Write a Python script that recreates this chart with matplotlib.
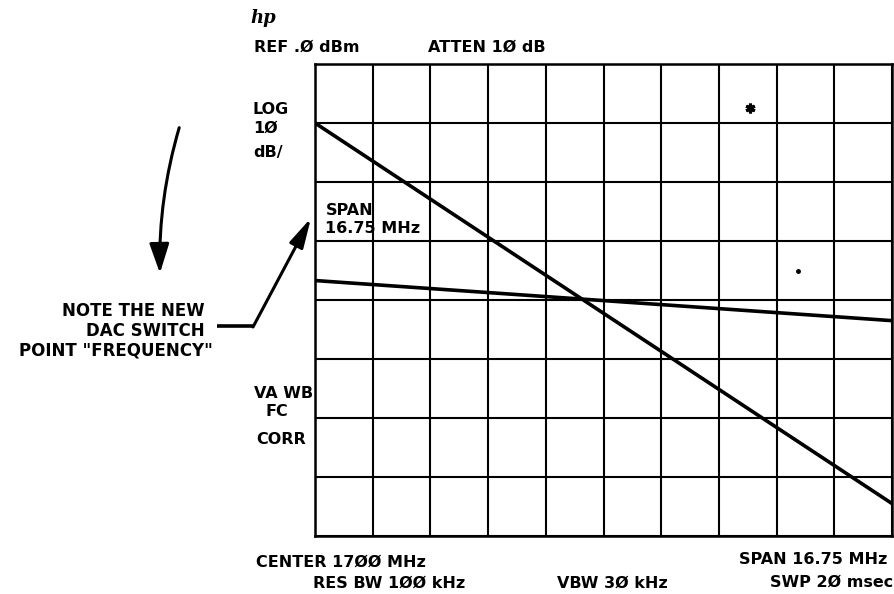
import numpy as np
import matplotlib.pyplot as plt
from matplotlib.patches import FancyArrowPatch

# Analyzer display: 10 horizontal divisions, 8 vertical divisions at 10 dB/div
x_divs = 10
ref_level = 0.0
db_per_div = 10
n_vdivs = 8

# Two swept traces, ends at left and right edge of the screen (divisions, dBm)
trace_x = [0, 10]
steep_trace = [-10.0, -74.5]
flat_trace = [-36.7, -43.5]

# Marker symbol and a stray dot on the screen
marker_pos = (7.54, -7.5)
dot_pos = (8.37, -35.0)

# Screen annotations
top_labels = ["REF .Ø dBm", "ATTEN 1Ø dB"]
left_labels = ["LOG", "1Ø", "dB/"]
mid_labels = ["VA WB", "FC", "CORR"]
span_label = ["SPAN", "16.75 MHz"]
bottom_labels = ["CENTER 17ØØ MHz", "SPAN 16.75 MHz",
                 "RES BW 1ØØ kHz", "VBW 3Ø kHz", "SWP 2Ø msec"]
note_lines = ["NOTE THE NEW", "DAC SWITCH", 'POINT "FREQUENCY"']

W, H = 895, 594
fig = plt.figure(figsize=(W / 100, H / 100), dpi=100)
fig.patch.set_facecolor("white")

# graticule axes
left, top, right, bottom = 315, 64, 892, 536
ax = fig.add_axes([left / W, 1 - bottom / H, (right - left) / W, (bottom - top) / H])
ax.set_xlim(0, x_divs)
ax.set_ylim(ref_level - n_vdivs * db_per_div, ref_level)
ax.set_xticks(np.arange(0, x_divs + 1))
ax.set_yticks(np.arange(ref_level - n_vdivs * db_per_div, ref_level + 1, db_per_div))
ax.tick_params(length=0, labelbottom=False, labelleft=False)
ax.grid(True, color="black", linewidth=1.5)
for sp in ax.spines.values():
    sp.set_linewidth(1.8)

ax.plot(trace_x, steep_trace, color="black", linewidth=2.6, solid_capstyle="butt")
ax.plot(trace_x, flat_trace, color="black", linewidth=2.6, solid_capstyle="butt")
ax.plot(*marker_pos, marker=(6, 2, 0), color="black", markersize=7, mew=2.2)
ax.plot(*dot_pos, marker="o", color="black", markersize=2.5)

font = dict(family="DejaVu Sans", weight="bold", fontsize=11.5, color="black")
ax.text(0.18, -24.8, span_label[0], va="center", ha="left", **font)
ax.text(0.18, -27.8, span_label[1], va="center", ha="left", **font)

# overlay in pixel coordinates for the surrounding text and arrows
ov = fig.add_axes([0, 0, 1, 1])
ov.set_xlim(0, W)
ov.set_ylim(H, 0)
ov.axis("off")

ov.text(250, 18, "hp", style="italic", weight="bold", fontsize=13,
        family="DejaVu Serif", va="center", ha="left")

ov.text(254, 47, top_labels[0], va="center", ha="left", **font)
ov.text(428, 47, top_labels[1], va="center", ha="left", **font)

for i, s in enumerate(left_labels):
    ov.text(253, [110, 128, 153][i], s, va="center", ha="left", **font)

ov.text(313, 393, mid_labels[0], va="center", ha="right", **font)
ov.text(266, 411, mid_labels[1], va="center", ha="left", **font)
ov.text(256, 439, mid_labels[2], va="center", ha="left", **font)

ov.text(256, 562, bottom_labels[0], va="center", ha="left", **font)
ov.text(887, 560, bottom_labels[1], va="center", ha="right", **font)
ov.text(313, 583, bottom_labels[2], va="center", ha="left", **font)
ov.text(557, 583, bottom_labels[3], va="center", ha="left", **font)
ov.text(893, 582, bottom_labels[4], va="center", ha="right", **font)

note_font = dict(family="DejaVu Sans", weight="bold", fontsize=12, color="black")
ov.text(205, 311, note_lines[0], va="center", ha="right", **note_font)
ov.text(205, 331, note_lines[1], va="center", ha="right", **note_font)
ov.text(213, 350, note_lines[2], va="center", ha="right", **note_font)

# curved arrow pointing down
arr1 = FancyArrowPatch((180, 125), (160, 276), connectionstyle="arc3,rad=0.08",
                       arrowstyle="-|>,head_length=1.8,head_width=0.6",
                       mutation_scale=10, color="black", linewidth=2.2)
ov.add_patch(arr1)

# elbow arrow pointing at the switch point
ov.plot([217, 254], [326, 326], color="black", linewidth=2.6, solid_capstyle="butt")
arr2 = FancyArrowPatch((253, 327), (311, 218), arrowstyle="-|>,head_length=1.8,head_width=0.45",
                       mutation_scale=10, color="black", linewidth=2.2,
                       shrinkA=0, shrinkB=0)
ov.add_patch(arr2)

fig.savefig("out.png", dpi=100, facecolor="white")
